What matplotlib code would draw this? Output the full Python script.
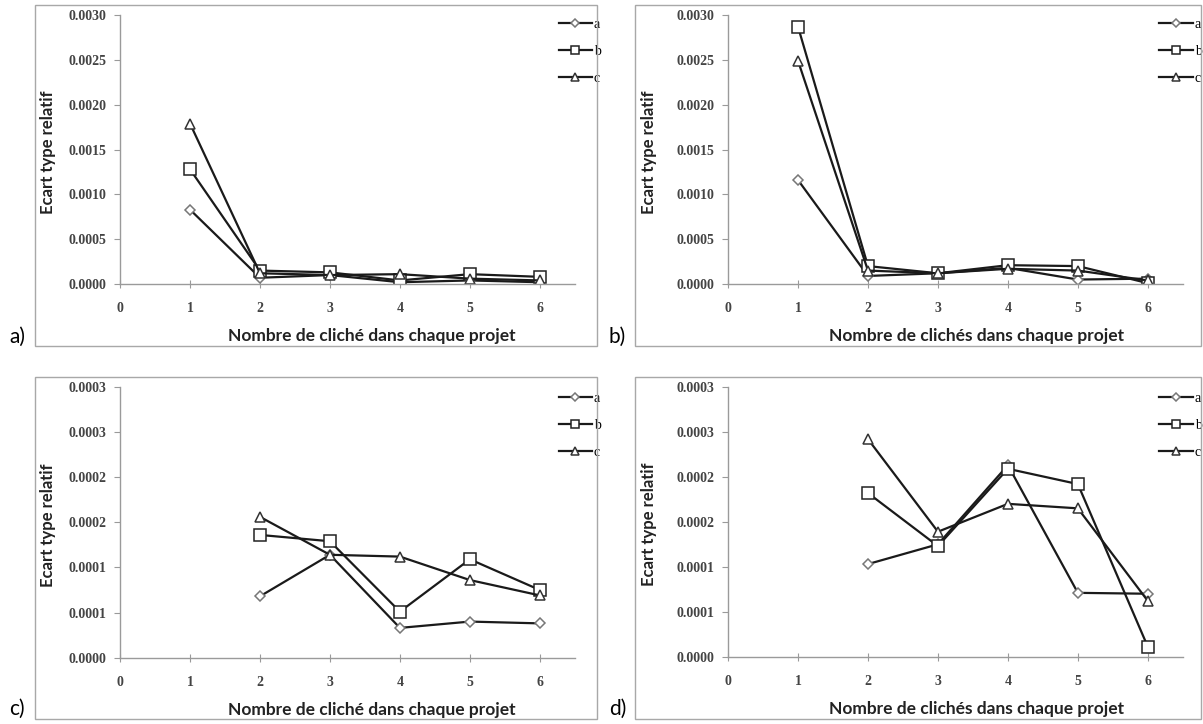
"""Ecart type relatif vs nombre de clichés, four panels a) to d)"""
import matplotlib
matplotlib.use("Agg")
import matplotlib.pyplot as plt
from matplotlib.patches import Rectangle

# data
x_top = [1, 2, 3, 4, 5, 6]
x_bot = [2, 3, 4, 5, 6]

a_a = [0.00083, 0.00007, 0.00010, 0.00002, 0.00004, 0.00002]
a_b = [0.00128, 0.00015, 0.00013, 0.00004, 0.00011, 0.00008]
a_c = [0.00179, 0.00012, 0.00010, 0.00011, 0.00006, 0.00004]

b_a = [0.00116, 0.00009, 0.00012, 0.00018, 0.00005, 0.00006]
b_b = [0.00287, 0.00020, 0.00012, 0.00021, 0.00020, 0.00001]
b_c = [0.00249, 0.00015, 0.00012, 0.00017, 0.00015, 0.00004]

c_a = [0.000068, 0.000114, 0.000033, 0.000040, 0.000038]
c_b = [0.000136, 0.000129, 0.000051, 0.000109, 0.000075]
c_c = [0.000156, 0.000114, 0.000112, 0.000086, 0.000069]

d_a = [0.000103, 0.000125, 0.000213, 0.000071, 0.000070]
d_b = [0.000182, 0.000123, 0.000209, 0.000192, 0.000011]
d_c = [0.000242, 0.000139, 0.000170, 0.000165, 0.000062]

series_names = ["a", "b", "c"]
x_ticks = [0, 1, 2, 3, 4, 5, 6]
yticks_top = [0, 0.0005, 0.0010, 0.0015, 0.0020, 0.0025, 0.0030]
ylabels_top = ["0.0000", "0.0005", "0.0010", "0.0015", "0.0020", "0.0025", "0.0030"]
yticks_bot = [0, 0.00005, 0.0001, 0.00015, 0.0002, 0.00025, 0.0003]
ylabels_bot = ["0.0000", "0.0001", "0.0001", "0.0002", "0.0002", "0.0003", "0.0003"]

xlabel_a = "Nombre de cliché dans chaque projet"
xlabel_b = "Nombre de clichés dans chaque projet"
ylabel = "Ecart type relatif"

fig = plt.figure(figsize=(12.03, 7.24), dpi=100)

markers = [("D", 5.5, "#777777"), ("s", 8, "#222222"), ("^", 7.5, "#333333")]


def draw_panel(rect, frame, xs, ys, yticks, ylabels, xlabel, xlab_x, ylab_x, leg_xy, tag, tag_xy):
    fig.add_artist(Rectangle(frame[:2], frame[2], frame[3], transform=fig.transFigure,
                             fill=False, edgecolor="#a8a8a8", lw=1.0))
    ax = fig.add_axes(rect)
    for vals, name, (m, ms, mec) in zip(ys, series_names, markers):
        ax.plot(xs, vals, color="#1a1a1a", lw=1.6, marker=m, ms=ms,
                mfc="white", mec=mec, mew=1.1, label=name)
    ax.set_xlim(0, 6.5)
    ax.set_ylim(0, yticks[-1])
    ax.set_xticks(x_ticks)
    ax.set_yticks(yticks)
    ax.set_yticklabels(ylabels)
    for s in ["top", "right"]:
        ax.spines[s].set_visible(False)
    for s in ["left", "bottom"]:
        ax.spines[s].set_color("#9a9a9a")
        ax.spines[s].set_linewidth(1.0)
    ax.tick_params(axis="x", direction="inout", length=6, color="#9a9a9a", pad=10,
                   labelsize=10, labelcolor="#444444")
    ax.tick_params(axis="y", direction="out", length=4, color="#9a9a9a", pad=6,
                   labelsize=10, labelcolor="#444444")
    for lab in ax.get_xticklabels() + ax.get_yticklabels():
        lab.set_family("Liberation Serif")
        lab.set_fontweight("bold")
    ax.set_xlabel(xlabel, family="Lato", fontweight="bold", fontsize=12.5, color="#222222")
    ax.xaxis.set_label_coords(xlab_x, -0.165)
    ax.set_ylabel(ylabel, family="Lato", fontweight="bold", fontsize=12, color="#222222")
    ax.yaxis.set_label_coords(ylab_x, 0.49)
    ax.legend(loc="upper left", bbox_to_anchor=leg_xy, bbox_transform=fig.transFigure,
              frameon=False, handlelength=2.4, handletextpad=0.15, markerscale=0.75,
              labelspacing=1.0, borderpad=0, prop={"family": "Liberation Serif", "size": 10})
    fig.text(tag_xy[0], tag_xy[1], tag, family="Lato", fontsize=15, color="black")
    return ax


draw_panel([0.0998, 0.6077, 0.378, 0.3715], (0.029, 0.522, 0.467, 0.471),
           x_top, [a_a, a_b, a_c], yticks_top, ylabels_top, xlabel_a, 0.554, -0.14,
           (0.4585, 0.985), "a)", (0.008, 0.527))
draw_panel([0.6052, 0.6077, 0.378, 0.3715], (0.528, 0.522, 0.470, 0.471),
           x_top, [b_a, b_b, b_c], yticks_top, ylabels_top, xlabel_b, 0.546, -0.157,
           (0.958, 0.985), "b)", (0.506, 0.527))
draw_panel([0.0998, 0.0916, 0.378, 0.374], (0.029, 0.007, 0.467, 0.472),
           x_bot, [c_a, c_b, c_c], yticks_bot, ylabels_bot, xlabel_a, 0.554, -0.14,
           (0.4585, 0.468), "c)", (0.008, 0.012))
draw_panel([0.6052, 0.093, 0.378, 0.3725], (0.528, 0.007, 0.470, 0.472),
           x_bot, [d_a, d_b, d_c], yticks_bot, ylabels_bot, xlabel_b, 0.546, -0.157,
           (0.958, 0.468), "d)", (0.506, 0.012))

fig.savefig("out.png", dpi=100)
